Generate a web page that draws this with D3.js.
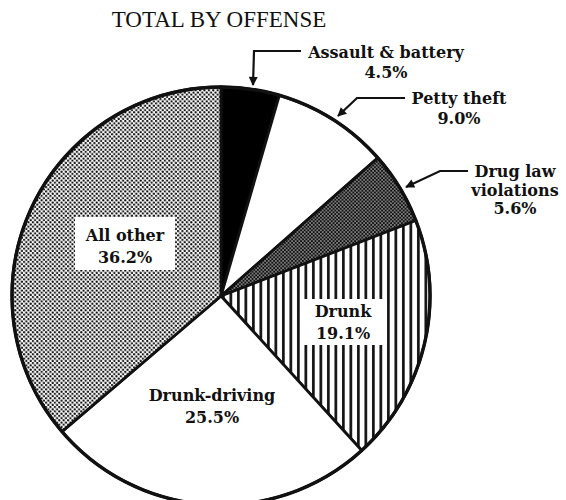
<!DOCTYPE html>
<html>
<head>
<meta charset="utf-8">
<script src="https://cdn.jsdelivr.net/npm/d3@7"></script>
<style>
  html, body { margin: 0; padding: 0; background: #fff; }
  svg { display: block; }
</style>
</head>
<body>
<script>
// Offense categories, clockwise from 12 o'clock
const categories = ["Assault & battery", "Petty theft", "Drug law violations", "Drunk", "Drunk-driving", "All other"];
const shares = [4.5, 9.0, 5.6, 19.1, 25.5, 36.2];
const fills = ["black", "white", "url(#checker)", "url(#stripes)", "white", "url(#stipple)"];

const W = 566, H = 500;
const cx = 221, cy = 296, R = 209;

const svg = d3.select("body").append("svg").attr("width", W).attr("height", H);
const defs = svg.append("defs");

// stipple for "All other"
const st = defs.append("pattern").attr("id", "stipple").attr("patternUnits", "userSpaceOnUse")
  .attr("width", 4.4).attr("height", 4.4);
st.append("rect").attr("width", 4.4).attr("height", 4.4).attr("fill", "#fff");
st.append("circle").attr("cx", 1.1).attr("cy", 1.1).attr("r", 1.15).attr("fill", "#111");
st.append("circle").attr("cx", 3.3).attr("cy", 3.3).attr("r", 1.15).attr("fill", "#111");

// dark screen with light holes for drug law slice
const ck = defs.append("pattern").attr("id", "checker").attr("patternUnits", "userSpaceOnUse")
  .attr("width", 3.6).attr("height", 3.6);
ck.append("rect").attr("width", 3.6).attr("height", 3.6).attr("fill", "#111");
ck.append("circle").attr("cx", 0.9).attr("cy", 0.9).attr("r", 0.75).attr("fill", "#fff");
ck.append("circle").attr("cx", 2.7).attr("cy", 2.7).attr("r", 0.75).attr("fill", "#fff");

// vertical rules for "Drunk"
const sp = defs.append("pattern").attr("id", "stripes").attr("patternUnits", "userSpaceOnUse")
  .attr("width", 7.5).attr("height", 10);
sp.append("rect").attr("width", 7.5).attr("height", 10).attr("fill", "#fff");
sp.append("rect").attr("x", 1).attr("width", 2.7).attr("height", 10).attr("fill", "#111");

// arrow head
defs.append("marker").attr("id", "arrow").attr("viewBox", "0 0 10 10")
  .attr("refX", 9).attr("refY", 5).attr("markerWidth", 10).attr("markerHeight", 9)
  .attr("markerUnits", "userSpaceOnUse").attr("orient", "auto")
  .append("path").attr("d", "M0,0 L10,5 L0,10 Z").attr("fill", "#111");

const data = categories.map((c, i) => ({ name: c, value: shares[i], fill: fills[i] }));
const pie = d3.pie().sort(null).value(d => d.value);
const arc = d3.arc().innerRadius(0).outerRadius(R);

const g = svg.append("g").attr("transform", `translate(${cx},${cy})`);
g.selectAll("path.slice").data(pie(data)).join("path")
  .attr("class", "slice")
  .attr("d", arc)
  .attr("fill", d => d.data.fill)
  .attr("stroke", "#111")
  .attr("stroke-width", 2.8)
  .attr("stroke-linejoin", "round");
g.append("circle").attr("r", R).attr("fill", "none").attr("stroke", "#111").attr("stroke-width", 3.4);

// Title
svg.append("text").attr("x", 219).attr("y", 27).attr("text-anchor", "middle")
  .attr("font-family", "Liberation Serif, serif").attr("font-size", 23)
  .attr("fill", "#111").text("TOTAL BY OFFENSE");

const lblFont = "DejaVu Serif, serif";
function label(x, y, lines, box, step = 22) {
  const t = svg.append("g");
  if (box) {
    t.append("rect").attr("x", box[0]).attr("y", box[1]).attr("width", box[2]).attr("height", box[3]).attr("fill", "#fff");
  }
  lines.forEach((s, i) => {
    t.append("text").attr("x", x).attr("y", y + i * step).attr("text-anchor", "middle")
      .attr("font-family", lblFont).attr("font-weight", "bold").attr("font-size", 16)
      .attr("fill", "#111").text(s);
  });
}

const pct = v => v.toFixed(1) + "%";

// inside labels
label(125, 241, ["All other", pct(shares[5])], [75, 217, 100, 53]);
label(343, 317, ["Drunk", pct(shares[3])], [303, 299, 84, 46]);
label(212, 401, ["Drunk-driving", pct(shares[4])], null);

// outside labels with leaders
label(386, 58, ["Assault & battery", pct(shares[0])], null, 20);
label(459, 104, ["Petty theft", pct(shares[1])], null, 20);
label(515, 177, ["Drug law", "violations", pct(shares[2])], null, 18.5);

const leaders = [
  [[301, 51], [254, 51], [253, 85]],
  [[405, 98], [357, 98], [338, 116]],
  [[468, 171], [440, 171], [406, 187]]
];
svg.selectAll("path.leader").data(leaders).join("path")
  .attr("class", "leader")
  .attr("d", d => d3.line()(d))
  .attr("fill", "none").attr("stroke", "#111").attr("stroke-width", 2.2)
  .attr("marker-end", "url(#arrow)");
</script>
</body>
</html>
